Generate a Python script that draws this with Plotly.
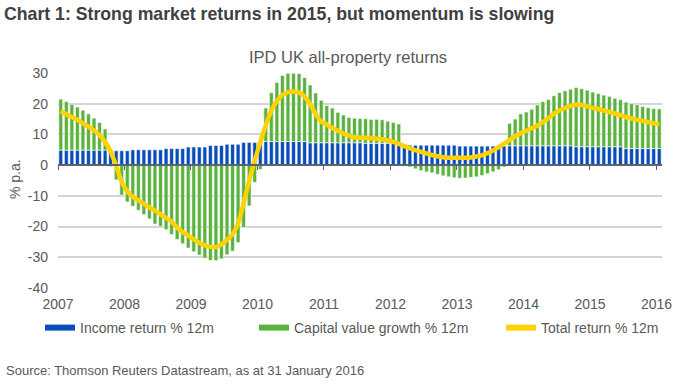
import plotly.graph_objects as go

# ---------------- data ----------------
years = ["2007", "2008", "2009", "2010", "2011", "2012", "2013", "2014", "2015", "2016"]
months = [f"{y}-{m:02d}" for y in range(2007, 2016) for m in range(1, 13)] + ["2016-01"]

income_return = [
    4.9, 4.9, 4.9, 4.9, 4.9, 4.9, 4.9, 4.9, 4.9, 4.9, 4.7, 4.7,
    4.7, 5.0, 5.0, 5.0, 5.0, 5.0, 5.0, 5.4, 5.4, 5.4, 5.4, 5.9,
    5.9, 5.9, 5.9, 6.4, 6.4, 6.4, 6.8, 6.8, 6.8, 7.4, 7.4, 7.4,
    7.7, 7.7, 7.7, 7.7, 7.7, 7.7, 7.7, 7.7, 7.7, 7.3, 7.3, 7.3,
    7.3, 7.3, 7.3, 7.3, 7.3, 7.3, 7.3, 7.1, 7.1, 7.1, 7.1, 7.1,
    7.1, 6.5, 6.5, 6.5, 6.5, 6.5, 6.5, 6.5, 6.5, 6.5, 6.5, 6.5,
    6.2, 6.2, 6.2, 6.2, 6.2, 6.2, 6.2, 6.2, 6.2, 6.3, 6.3, 6.3,
    6.3, 6.3, 6.3, 6.3, 6.3, 6.3, 6.3, 6.3, 6.3, 6.0, 6.0, 6.0,
    6.0, 6.0, 6.0, 6.0, 6.0, 6.0, 5.4, 5.4, 5.4, 5.4, 5.4, 5.4,
    5.4,
]

capital_growth = [
    16.6, 15.8, 14.9, 14.0, 13.0, 11.8, 10.4, 9.0, 6.9, -0.5, -4.8, -9.8,
    -12.0, -13.4, -14.7, -16.1, -17.5, -19.2, -20.0, -21.0, -22.6, -24.2, -25.6, -27.0,
    -28.2, -29.3, -30.3, -31.0, -31.1, -30.5, -29.2, -28.0, -25.2, -20.3, -13.3, -5.6,
    -1.4, 10.9, 15.9, 19.2, 21.5, 22.2, 22.2, 22.1, 20.8, 18.8, 16.2, 13.8,
    12.1, 11.3, 9.9, 9.0, 8.2, 8.0, 7.9, 8.0, 7.8, 7.8, 7.7, 7.2,
    6.8, 6.9, -0.3, -0.6, -1.2, -1.8, -2.2, -2.5, -3.0, -3.5, -3.8, -4.1,
    -4.3, -4.2, -4.0, -3.8, -3.4, -2.8, -2.2, -1.5, -0.6, 7.3, 8.7, 10.4,
    11.0, 11.9, 13.3, 14.4, 15.1, 16.3, 17.3, 17.9, 18.4, 19.3, 18.9, 18.4,
    17.8, 17.3, 16.8, 16.4, 15.8, 15.3, 15.1, 14.6, 14.3, 13.7, 13.3, 13.0,
    12.9,
]

total_return = [
    17.6, 16.6, 15.6, 14.8, 13.6, 12.5, 11.3, 9.8, 7.5, 4.5, -0.3, -5.5,
    -8.5, -10.3, -11.5, -12.6, -13.8, -14.8, -16.0, -17.2, -18.4, -20.3, -21.8, -22.9,
    -24.2, -25.3, -26.1, -26.6, -26.7, -25.8, -24.3, -22.5, -19.0, -12.5, -5.0, 1.5,
    7.5, 13.0, 17.8, 20.8, 22.8, 23.8, 24.0, 23.7, 22.3, 19.8, 16.6, 14.2,
    13.2, 12.1, 11.2, 10.3, 9.6, 9.1, 8.9, 8.9, 8.8, 8.6, 8.4, 8.1,
    7.6, 6.9, 6.2, 5.5, 4.9, 4.3, 3.8, 3.3, 2.9, 2.6, 2.4, 2.4,
    2.4, 2.4, 2.5, 2.8, 3.2, 3.9, 4.8, 5.8, 7.0, 8.2, 9.4, 10.4,
    11.2, 12.0, 12.9, 14.0, 15.3, 16.8, 17.8, 18.6, 19.3, 19.7, 19.6, 19.1,
    18.6, 18.3, 17.8, 17.3, 16.8, 16.3, 15.6, 15.2, 14.8, 14.4, 14.0, 13.6,
    13.2,
]

y_tick_values = [-40, -30, -20, -10, 0, 10, 20, 30]
y_tick_labels = ["-40", "-30", "-20", "-10", "0", "10", "20", "30"]

series_names = ["Income return % 12m", "Capital value growth % 12m", "Total return % 12m"]

# ---------------- styling ----------------
BLUE = "#0A4DB8"
GREEN = "#5CB23F"
YELLOW = "#FFD200"
TEXT = "#595959"
FONT = "Liberation Sans, Arial, sans-serif"

x = list(range(len(months)))
year_ticks = [i * 12 - 0.5 for i in range(len(years))]
xr = [-0.5, len(months) - 0.5]

fig = go.Figure()

fig.add_trace(go.Bar(
    x=x, y=income_return, name=series_names[0], customdata=months,
    marker=dict(color=BLUE, line=dict(color="white", width=0.6)),
    showlegend=False, legendgroup="inc",
    hovertemplate="%{customdata}: %{y}<extra>" + series_names[0] + "</extra>",
))
fig.add_trace(go.Bar(
    x=x, y=capital_growth, name=series_names[1], customdata=months,
    marker=dict(color=GREEN, line=dict(color="white", width=0.6)),
    showlegend=False, legendgroup="cap",
    hovertemplate="%{customdata}: %{y}<extra>" + series_names[1] + "</extra>",
))
fig.add_trace(go.Scatter(
    x=x, y=total_return, name=series_names[2], customdata=months,
    mode="lines", line=dict(color=YELLOW, width=4.5, shape="spline", smoothing=0.5),
    xaxis="x2", showlegend=False, legendgroup="tot",
    hovertemplate="%{customdata}: %{y}<extra>" + series_names[2] + "</extra>",
))

# legend entries drawn as thick lines (as in the original)
for name, col, grp, lg in [(series_names[0], BLUE, "inc", "legend"),
                           (series_names[1], GREEN, "cap", "legend2"),
                           (series_names[2], YELLOW, "tot", "legend3")]:
    fig.add_trace(go.Scatter(x=[None], y=[None], mode="lines", name=name,
                             line=dict(color=col, width=6), legendgroup=grp,
                             legend=lg, showlegend=True))

legend_common = dict(orientation="h", xref="container", yref="container",
                     yanchor="middle", xanchor="left",
                     font=dict(family=FONT, size=14, color=TEXT),
                     bgcolor="rgba(0,0,0,0)", itemwidth=30)

LEG_Y = 1 - 328 / 385

fig.update_layout(
    width=686, height=385,
    margin=dict(l=58, r=24, t=73, b=97, autoexpand=False),
    paper_bgcolor="white", plot_bgcolor="white",
    barmode="relative", bargap=0.3,
    font=dict(family=FONT, size=14, color=TEXT),
    title=dict(text="<b>Chart 1: Strong market returns in 2015, but momentum is slowing</b>",
               x=4 / 686, xanchor="left", xref="container",
               y=1 - 14 / 385, yanchor="middle", yref="container",
               font=dict(family=FONT, size=17.7, color="#404040")),
    xaxis=dict(range=xr, tickmode="array", tickvals=year_ticks, ticktext=years,
               showgrid=False, zeroline=False, showline=False, ticks="",
               automargin=False, ticklabelstandoff=6,
               tickfont=dict(size=14, color=TEXT)),
    xaxis2=dict(range=xr, overlaying="x", anchor="free", position=40 / 70,
                tickmode="array", tickvals=year_ticks, showticklabels=False,
                showgrid=False, zeroline=False, showline=True, automargin=False,
                linecolor="#5A6470", linewidth=1.5,
                ticks="outside", ticklen=4, tickcolor="#5A6470", tickwidth=1),
    yaxis=dict(range=[-40, 30], tickmode="array", tickvals=y_tick_values,
               ticktext=y_tick_labels, showgrid=True, gridcolor="#D4D4D4",
               gridwidth=1.5, zeroline=False, showline=False, ticks="",
               automargin=False, ticklabelstandoff=9,
               tickfont=dict(size=14, color=TEXT)),
    legend=dict(x=40 / 686, y=LEG_Y, **legend_common),
    legend2=dict(x=254 / 686, y=LEG_Y, **legend_common),
    legend3=dict(x=501 / 686, y=LEG_Y, **legend_common),
    annotations=[
        dict(text="IPD UK all-property returns", xref="paper", yref="paper",
             x=(348 - 58) / 604, y=(288 - 57) / 215, xanchor="center", yanchor="middle",
             showarrow=False, font=dict(family=FONT, size=16.5, color=TEXT)),
        dict(text="% p.a.", xref="paper", yref="paper", textangle=-90,
             x=(15 - 58) / 604, y=(288 - 179) / 215, xanchor="center", yanchor="middle",
             showarrow=False, font=dict(family=FONT, size=14, color=TEXT)),
        dict(text="Source: Thomson Reuters Datastream, as at 31 January 2016",
             xref="paper", yref="paper", x=(4 - 58) / 604, y=(288 - 370) / 215,
             xanchor="left", yanchor="middle", showarrow=False,
             font=dict(family=FONT, size=13, color=TEXT)),
    ],
)

fig.write_html("out.html", config={"displayModeBar": False},
               post_script="document.body.style.margin='0';")
